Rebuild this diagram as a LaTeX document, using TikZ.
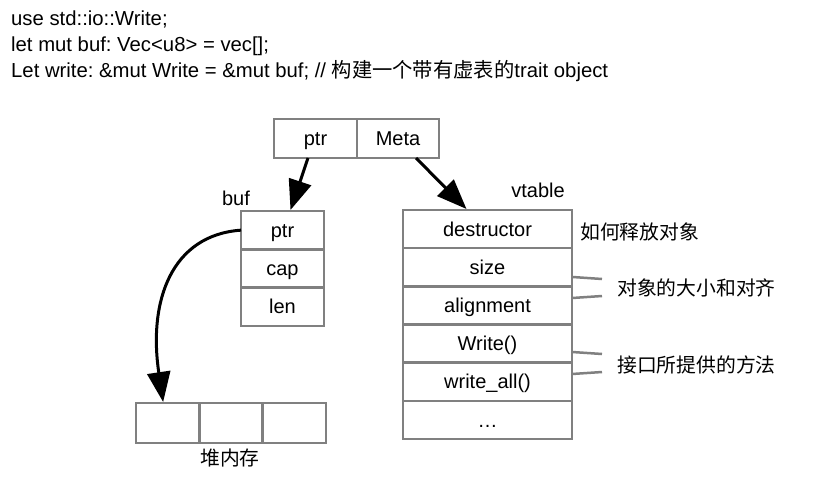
\documentclass[tikz,border=0pt]{standalone}
\usepackage{fontspec}
\setmainfont{Liberation Sans}
\newfontfamily\cjk{Noto Sans CJK SC}
\usetikzlibrary{arrows.meta}
\definecolor{boxgray}{HTML}{808080}
\frenchspacing
\begin{document}
\begin{tikzpicture}[x=1pt,y=-1pt,
  cell/.style={draw=boxgray, line width=2.5pt, inner sep=0pt, outer sep=0pt,
    font=\fontsize{20}{24}\selectfont, text=black, text height=14.3pt, text depth=0pt},
  arr/.style={line width=3pt, -{Triangle[length=30pt,width=23pt]}},
  tick/.style={draw=boxgray, line width=2.5pt},
  lab/.style={inner sep=0pt, font=\fontsize{20}{24}\selectfont},
  cjklab/.style={inner sep=0pt, font=\fontsize{19.8}{24}\selectfont\cjk},
  code/.style={inner sep=0pt, anchor=base west, font=\fontsize{20.3}{24}\selectfont}]
\useasboundingbox (0,0) rectangle (820,490);

% code
\node[code] (c1) at (11,25.5) {use std::io::Write;};
\node[code] (c2) at (11,51.5) {let mut buf: Vec<u8> = vec[];};
\node[code] (c3) at (11,77) {Let write: \&mut Write = \&mut buf; // {\cjk 构建一个带有虚表的}trait object};

% fat pointer
\node[cell, minimum width=83pt, minimum height=39pt] (tptr) at (315.5,138.5) {ptr};
\node[cell, minimum width=82pt, minimum height=39pt] (tmeta) at (398,138.5) {Meta};

% buf
\node[lab, anchor=base] (buflab) at (236,205) {buf};
\node[cell, minimum width=83pt, minimum height=38.3pt] (bptr) at (282.5,230.15) {ptr};
\node[cell, minimum width=83pt, minimum height=38.3pt] (bcap) at (282.5,268.45) {cap};
\node[cell, minimum width=83pt, minimum height=38.3pt] (blen) at (282.5,306.75) {len};

% heap
\node[cell, minimum width=63.3pt, minimum height=40pt] (h1) at (167.65,423) {};
\node[cell, minimum width=63.3pt, minimum height=40pt] (h2) at (230.95,423) {};
\node[cell, minimum width=63.4pt, minimum height=40pt] (h3) at (294.3,423) {};
\node[cjklab] (heaplab) at (230,458) {堆内存};

% vtable
\node[lab, anchor=base] (vtlab) at (538,197) {vtable};
\node[cell, minimum width=169pt, minimum height=38.17pt] (vdes) at (487.5,229.08) {destructor};
\node[cell, minimum width=169pt, minimum height=38.17pt] (vsize) at (487.5,267.25) {size};
\node[cell, minimum width=169pt, minimum height=38.17pt] (valign) at (487.5,305.42) {alignment};
\node[cell, minimum width=169pt, minimum height=38.17pt] (vwrite) at (487.5,343.58) {Write()};
\node[cell, minimum width=169pt, minimum height=38.17pt] (vwall) at (487.5,381.75) {write\_all()};
\node[cell, minimum width=169pt, minimum height=38.17pt] (vdots) at (487.5,419.92) {\ldots};

% annotations
\node[cjklab, anchor=west] (ann1) at (580,232) {如何释放对象};
\node[cjklab, anchor=west] (ann2) at (617,288) {对象的大小和对齐};
\node[cjklab, anchor=west] (ann3) at (617,365) {接口所提供的方法};

\coordinate (e1) at (602,279);
\coordinate (e2) at (602,296);
\coordinate (e3) at (602,354);
\coordinate (e4) at (602,372);
\draw[tick] ([yshift=-9.7pt]vsize.east) -- (e1);
\draw[tick] ([yshift=7.4pt]valign.east) -- (e2);
\draw[tick] ([yshift=-8.4pt]vwrite.east) -- (e3);
\draw[tick] ([yshift=7.75pt]vwall.east) -- (e4);

% arrows
\draw[arr] ([xshift=-7.5pt]tptr.south) -- ([xshift=8pt,yshift=1pt]bptr.north);
\draw[arr] ([xshift=18pt]tmeta.south) -- ([xshift=-21pt,yshift=1pt]vdes.north);
\draw[arr] (bptr.west) .. controls (172,235) and (148,300) .. ([xshift=-4.5pt,yshift=1pt]h1.north);
\end{tikzpicture}
\end{document}
